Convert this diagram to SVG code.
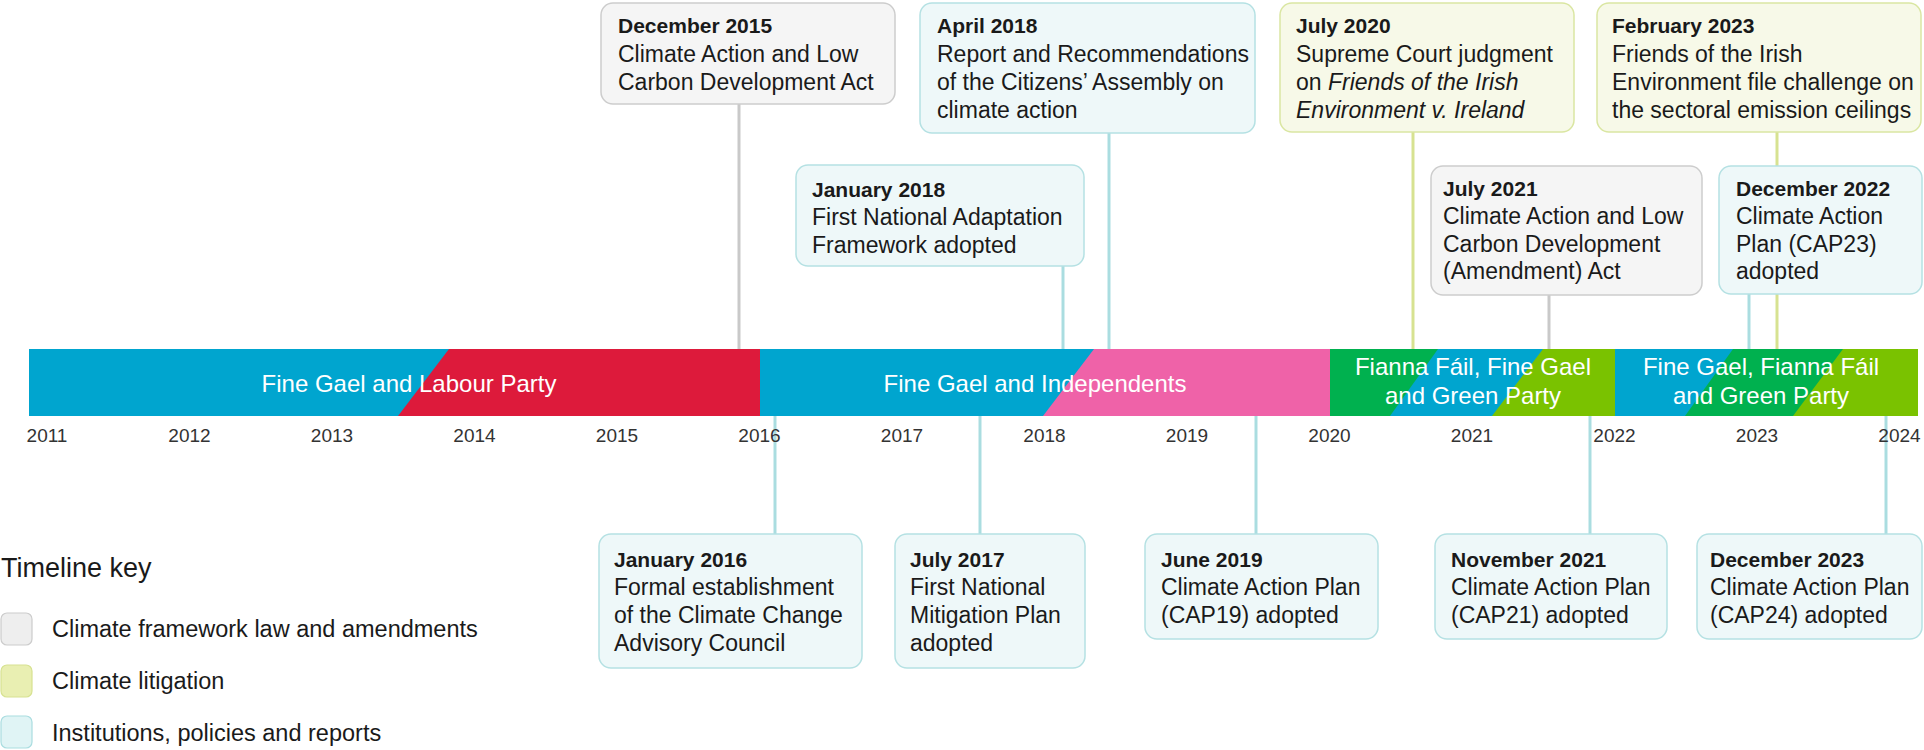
<svg xmlns="http://www.w3.org/2000/svg" width="1924" height="750" viewBox="0 0 1924 750">
<style>
text{font-family:"Liberation Sans",Arial,sans-serif;}
.t{font-size:21px;font-weight:bold;fill:#1a1a1a;}
.b{font-size:23px;fill:#1a1a1a;}
.yr{font-size:19px;fill:#333;text-anchor:middle;}
.bl{font-size:24px;fill:#fff;text-anchor:middle;}
.lg{font-size:23.5px;fill:#1a1a1a;}
.law{fill:#f5f5f5;stroke:#cdcdcd;stroke-width:1.5;}
.lit{fill:#f7f9e8;stroke:#dae6a2;stroke-width:1.5;}
.ins{fill:#eef8f9;stroke:#b5e1e3;stroke-width:1.5;}
.cl{stroke:#c9c9c9;stroke-width:3;fill:none;}
.cy{stroke:#d7e291;stroke-width:3;fill:none;}
.ct{stroke:#aadde0;stroke-width:3;fill:none;}
</style>

<g id="connectors">
<line class="cl" x1="739" y1="104" x2="739" y2="349"/>
<line class="ct" x1="1109" y1="133" x2="1109" y2="349"/>
<line class="ct" x1="1063" y1="266" x2="1063" y2="349"/>
<line class="cy" x1="1413" y1="132" x2="1413" y2="349"/>
<line class="cy" x1="1777" y1="132" x2="1777" y2="349"/>
<line class="cl" x1="1549" y1="295" x2="1549" y2="349"/>
<line class="ct" x1="1749" y1="294" x2="1749" y2="349"/>
<line class="ct" x1="775" y1="416" x2="775" y2="534"/>
<line class="ct" x1="980" y1="416" x2="980" y2="534"/>
<line class="ct" x1="1256" y1="416" x2="1256" y2="534"/>
<line class="ct" x1="1590" y1="416" x2="1590" y2="534"/>
<line class="ct" x1="1886" y1="416" x2="1886" y2="534"/>
</g>

<g id="bar">
<rect x="29" y="349" width="731" height="67" fill="#00a5cf"/>
<polygon points="449,349 760,349 760,416 398,416" fill="#dd1a3b"/>
<rect x="760" y="349" width="570" height="67" fill="#00a5cf"/>
<polygon points="1094,349 1330,349 1330,416 1043,416" fill="#ef62a8"/>
<rect x="1330" y="349" width="285" height="67" fill="#00b14f"/>
<polygon points="1438,349 1615,349 1615,416 1390,416" fill="#00a5cf"/>
<polygon points="1543,349 1615,349 1615,416 1492,416" fill="#7ac200"/>
<rect x="1615" y="349" width="303" height="67" fill="#00a5cf"/>
<polygon points="1733,349 1918,349 1918,416 1685,416" fill="#00b14f"/>
<polygon points="1843,349 1918,349 1918,416 1793,416" fill="#7ac200"/>
<text class="bl" x="409" y="392">Fine Gael and Labour Party</text>
<text class="bl" x="1035" y="392">Fine Gael and Independents</text>
<text class="bl" x="1473" y="375">Fianna Fáil, Fine Gael</text>
<text class="bl" x="1473" y="404">and Green Party</text>
<text class="bl" x="1761" y="375">Fine Gael, Fianna Fáil</text>
<text class="bl" x="1761" y="404">and Green Party</text>
</g>

<g id="years">
<text class="yr" x="47" y="442">2011</text>
<text class="yr" x="189.5" y="442">2012</text>
<text class="yr" x="332" y="442">2013</text>
<text class="yr" x="474.5" y="442">2014</text>
<text class="yr" x="617" y="442">2015</text>
<text class="yr" x="759.5" y="442">2016</text>
<text class="yr" x="902" y="442">2017</text>
<text class="yr" x="1044.5" y="442">2018</text>
<text class="yr" x="1187" y="442">2019</text>
<text class="yr" x="1329.5" y="442">2020</text>
<text class="yr" x="1472" y="442">2021</text>
<text class="yr" x="1614.5" y="442">2022</text>
<text class="yr" x="1757" y="442">2023</text>
<text class="yr" x="1899.5" y="442">2024</text>
</g>

<g id="dec2015">
<rect class="law" x="601" y="3" width="294" height="101" rx="12"/>
<text class="t" x="618" y="33">December 2015</text>
<text class="b" x="618" y="62">Climate Action and Low</text>
<text class="b" x="618" y="90">Carbon Development Act</text>
</g>

<g id="apr2018">
<rect class="ins" x="920" y="3" width="335" height="130" rx="12"/>
<text class="t" x="937" y="33">April 2018</text>
<text class="b" x="937" y="62">Report and Recommendations</text>
<text class="b" x="937" y="90">of the Citizens’ Assembly on</text>
<text class="b" x="937" y="118">climate action</text>
</g>

<g id="jan2018">
<rect class="ins" x="796" y="165" width="288" height="101" rx="12"/>
<text class="t" x="812" y="197">January 2018</text>
<text class="b" x="812" y="225">First National Adaptation</text>
<text class="b" x="812" y="253">Framework adopted</text>
</g>

<g id="jul2020">
<rect class="lit" x="1280" y="3" width="294" height="129" rx="12"/>
<text class="t" x="1296" y="33">July 2020</text>
<text class="b" x="1296" y="62">Supreme Court judgment</text>
<text class="b" x="1296" y="90">on <tspan font-style="italic">Friends of the Irish</tspan></text>
<text class="b" x="1296" y="118" font-style="italic">Environment v. Ireland</text>
</g>

<g id="feb2023">
<rect class="lit" x="1597" y="3" width="324" height="129" rx="12"/>
<text class="t" x="1612" y="33">February 2023</text>
<text class="b" x="1612" y="62">Friends of the Irish</text>
<text class="b" x="1612" y="90">Environment file challenge on</text>
<text class="b" x="1612" y="118">the sectoral emission ceilings</text>
</g>

<g id="jul2021">
<rect class="law" x="1431" y="166" width="271" height="129" rx="12"/>
<text class="t" x="1443" y="196">July 2021</text>
<text class="b" x="1443" y="224">Climate Action and Low</text>
<text class="b" x="1443" y="252">Carbon Development</text>
<text class="b" x="1443" y="279">(Amendment) Act</text>
</g>

<g id="dec2022">
<rect class="ins" x="1719" y="166" width="203" height="128" rx="12"/>
<text class="t" x="1736" y="196">December 2022</text>
<text class="b" x="1736" y="224">Climate Action</text>
<text class="b" x="1736" y="252">Plan (CAP23)</text>
<text class="b" x="1736" y="279">adopted</text>
</g>

<g id="jan2016">
<rect class="ins" x="599" y="534" width="263" height="134" rx="12"/>
<text class="t" x="614" y="567">January 2016</text>
<text class="b" x="614" y="595">Formal establishment</text>
<text class="b" x="614" y="623">of the Climate Change</text>
<text class="b" x="614" y="651">Advisory Council</text>
</g>

<g id="jul2017">
<rect class="ins" x="895" y="534" width="190" height="134" rx="12"/>
<text class="t" x="910" y="567">July 2017</text>
<text class="b" x="910" y="595">First National</text>
<text class="b" x="910" y="623">Mitigation Plan</text>
<text class="b" x="910" y="651">adopted</text>
</g>

<g id="jun2019">
<rect class="ins" x="1145" y="534" width="233" height="105" rx="12"/>
<text class="t" x="1161" y="567">June 2019</text>
<text class="b" x="1161" y="595">Climate Action Plan</text>
<text class="b" x="1161" y="623">(CAP19) adopted</text>
</g>

<g id="nov2021">
<rect class="ins" x="1435" y="534" width="232" height="105" rx="12"/>
<text class="t" x="1451" y="567">November 2021</text>
<text class="b" x="1451" y="595">Climate Action Plan</text>
<text class="b" x="1451" y="623">(CAP21) adopted</text>
</g>

<g id="dec2023">
<rect class="ins" x="1697" y="534" width="225" height="105" rx="12"/>
<text class="t" x="1710" y="567">December 2023</text>
<text class="b" x="1710" y="595">Climate Action Plan</text>
<text class="b" x="1710" y="623">(CAP24) adopted</text>
</g>

<g id="legend">
<text x="1" y="577" font-size="27" fill="#1a1a1a">Timeline key</text>
<rect x="1" y="613" width="31" height="32" rx="6" fill="#eeeeee" stroke="#cccccc" stroke-width="1.2"/>
<text class="lg" x="52" y="637">Climate framework law and amendments</text>
<rect x="1" y="665" width="31" height="32" rx="6" fill="#e9efb2" stroke="#d7e291" stroke-width="1.2"/>
<text class="lg" x="52" y="689">Climate litigation</text>
<rect x="1" y="716" width="31" height="32" rx="6" fill="#e0f4f5" stroke="#aadde0" stroke-width="1.2"/>
<text class="lg" x="52" y="741">Institutions, policies and reports</text>
</g>
</svg>
